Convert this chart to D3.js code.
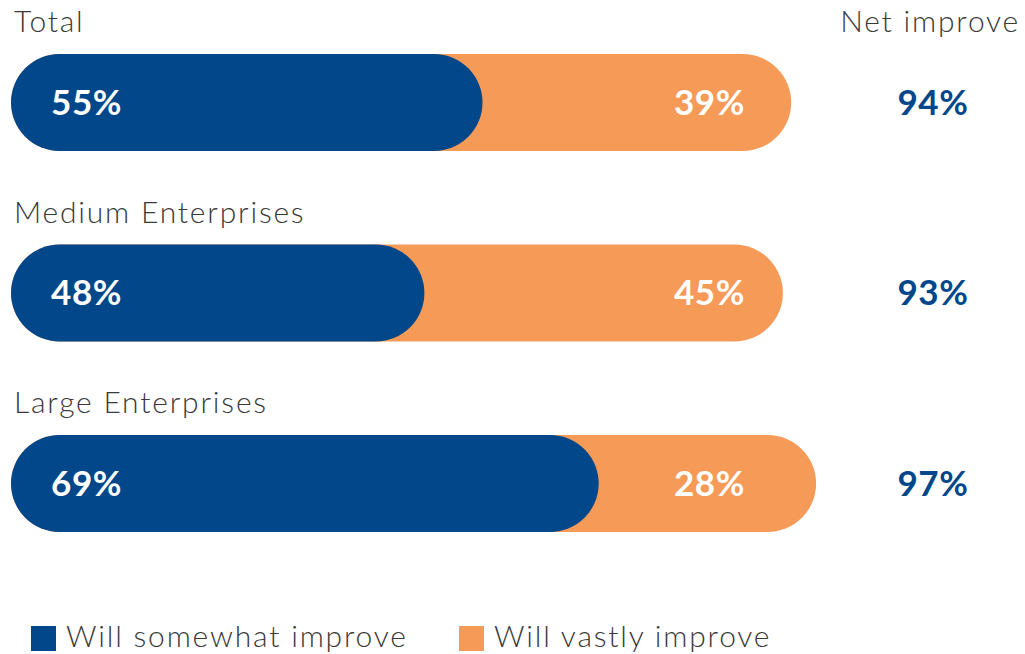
<!DOCTYPE html>
<html><head><meta charset="utf-8">
<script src="https://cdn.jsdelivr.net/npm/d3@7"></script>
<style>body{margin:0;background:#fff;}svg{display:block;font-family:Lato,"Open Sans",sans-serif;}</style>
</head><body>
<svg id="c" width="1025" height="654"></svg>
<script>
const categories = ["Total", "Medium Enterprises", "Large Enterprises"];
const somewhat = [55, 48, 69];
const vastly = [39, 45, 28];
const net = [94, 93, 97];
const seriesNames = ["Will somewhat improve", "Will vastly improve"];
const netHeader = "Net improve";

const blue = "#01478a", orange = "#f69a58", grey = "#3a3a3a";
const svg = d3.select("#c");
const x = d3.scaleLinear().domain([0, 100]).range([11, 841]);
const bh = 97, r = bh / 2, capOverlap = 15;

function lbl(sel, size){ return sel.attr("font-size", size).attr("font-weight", 300).attr("letter-spacing", 1.8).attr("fill", grey); }

const rows = svg.selectAll("g.row").data(categories.map((c, i) => ({c, s: somewhat[i], v: vastly[i], n: net[i], i})))
  .join("g").attr("class", "row").attr("transform", (d, i) => `translate(0,${54 + i * 190.5})`);

lbl(rows.append("text").attr("x", 14).attr("y", -22), 30).text(d => d.c);

rows.append("rect").attr("x", x(0)).attr("y", 0).attr("height", bh)
  .attr("width", d => x(d.s + d.v) - x(0)).attr("rx", r).attr("fill", orange);
rows.append("rect").attr("x", x(0)).attr("y", 0).attr("height", bh)
  .attr("width", d => x(d.s) - x(0) + capOverlap).attr("rx", r).attr("fill", blue);

function num(sel){ return sel.attr("font-size", 35).attr("font-weight", 700).attr("letter-spacing", 0.6); }
num(rows.append("text").attr("x", 51).attr("y", bh / 2 + 12).attr("fill", "#fff").text(d => d.s + "%"));
num(rows.append("text").attr("x", 745).attr("y", bh / 2 + 12).attr("fill", "#fff").attr("text-anchor", "end").text(d => d.v + "%"));
num(rows.append("text").attr("x", 933).attr("y", bh / 2 + 12).attr("fill", blue).attr("text-anchor", "middle").text(d => d.n + "%"));

lbl(svg.append("text").attr("x", 1020).attr("y", 32).attr("text-anchor", "end"), 30).text(netHeader);

const leg = svg.selectAll("g.leg").data(seriesNames).join("g").attr("class", "leg")
  .attr("transform", (d, i) => `translate(${i === 0 ? 31 : 459},626)`);
leg.append("rect").attr("width", 25).attr("height", 25).attr("fill", (d, i) => i === 0 ? blue : orange);
lbl(leg.append("text").attr("x", 35).attr("y", 21), 30).text(d => d);
</script>
</body></html>
